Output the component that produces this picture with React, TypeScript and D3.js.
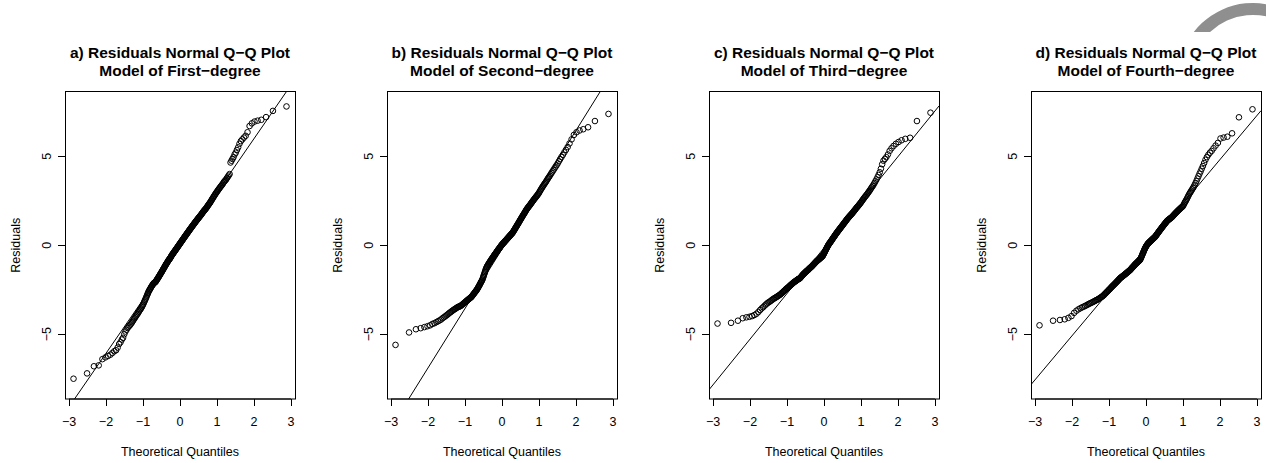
import { useEffect, useRef } from 'react';
import * as d3 from 'd3';

// sorted residuals of each model (n = 250)
const residualsA = [
  -7.5, -7.2, -6.8, -6.75, -6.4, -6.3, -6.22, -6.15, -6.05, -5.95,
  -5.9, -5.75, -5.55, -5.45, -5.3, -5.2, -5.0, -4.85, -4.75, -4.65,
  -4.58, -4.52, -4.46, -4.39, -4.32, -4.24, -4.17, -4.1, -4.03, -3.96,
  -3.9, -3.85, -3.78, -3.72, -3.65, -3.6, -3.55, -3.48, -3.42, -3.35,
  -3.28, -3.2, -3.12, -3.05, -2.98, -2.9, -2.82, -2.75, -2.68, -2.6,
  -2.55, -2.5, -2.45, -2.4, -2.35, -2.3, -2.26, -2.22, -2.18, -2.14,
  -2.12, -2.1, -2.08, -2.06, -2.02, -1.98, -1.94, -1.9, -1.86, -1.82,
  -1.78, -1.74, -1.7, -1.66, -1.62, -1.58, -1.54, -1.5, -1.46, -1.42,
  -1.38, -1.34, -1.3, -1.26, -1.22, -1.18, -1.14, -1.1, -1.06, -1.03,
  -1.0, -0.96, -0.92, -0.88, -0.85, -0.82, -0.79, -0.76, -0.73, -0.7,
  -0.66, -0.62, -0.58, -0.55, -0.52, -0.49, -0.46, -0.43, -0.4, -0.37,
  -0.34, -0.31, -0.28, -0.25, -0.22, -0.19, -0.16, -0.13, -0.1, -0.07,
  -0.04, -0.01, 0.02, 0.05, 0.08, 0.11, 0.14, 0.17, 0.2, 0.23,
  0.26, 0.29, 0.32, 0.35, 0.38, 0.41, 0.44, 0.47, 0.5, 0.53,
  0.56, 0.59, 0.62, 0.65, 0.68, 0.71, 0.74, 0.77, 0.8, 0.83,
  0.86, 0.89, 0.92, 0.95, 0.98, 1.01, 1.04, 1.07, 1.1, 1.13,
  1.16, 1.19, 1.22, 1.25, 1.28, 1.31, 1.34, 1.37, 1.4, 1.43,
  1.46, 1.49, 1.52, 1.55, 1.58, 1.61, 1.64, 1.67, 1.7, 1.73,
  1.77, 1.8, 1.84, 1.87, 1.91, 1.94, 1.97, 2.0, 2.03, 2.06,
  2.1, 2.14, 2.18, 2.22, 2.26, 2.3, 2.34, 2.38, 2.42, 2.47,
  2.52, 2.57, 2.62, 2.67, 2.72, 2.77, 2.82, 2.87, 2.92, 2.97,
  3.02, 3.07, 3.12, 3.17, 3.22, 3.27, 3.32, 3.37, 3.42, 3.48,
  3.55, 3.6, 3.65, 3.7, 3.78, 3.85, 3.92, 4.0, 4.65, 4.75,
  4.85, 4.95, 5.1, 5.2, 5.35, 5.5, 5.7, 5.85, 5.95, 6.05,
  6.15, 6.35, 6.7, 6.85, 6.95, 7.0, 7.05, 7.2, 7.55, 7.8,
];

const residualsB = [
  -5.6, -4.9, -4.72, -4.66, -4.6, -4.55, -4.5, -4.42, -4.38, -4.32,
  -4.27, -4.22, -4.17, -4.1, -4.05, -4.0, -3.95, -3.9, -3.85, -3.8,
  -3.76, -3.72, -3.68, -3.64, -3.61, -3.58, -3.55, -3.52, -3.49, -3.46,
  -3.45, -3.44, -3.42, -3.39, -3.36, -3.33, -3.3, -3.27, -3.24, -3.21,
  -3.18, -3.15, -3.12, -3.1, -3.07, -3.04, -3.02, -2.99, -2.97, -2.94,
  -2.92, -2.89, -2.85, -2.81, -2.77, -2.74, -2.7, -2.66, -2.63, -2.59,
  -2.56, -2.52, -2.48, -2.44, -2.39, -2.35, -2.3, -2.26, -2.21, -2.16,
  -2.11, -2.07, -2.02, -1.98, -1.93, -1.86, -1.79, -1.72, -1.65, -1.58,
  -1.51, -1.44, -1.37, -1.31, -1.25, -1.21, -1.17, -1.13, -1.09, -1.05,
  -1.02, -0.98, -0.95, -0.91, -0.88, -0.85, -0.81, -0.78, -0.75, -0.72,
  -0.69, -0.66, -0.62, -0.59, -0.56, -0.53, -0.5, -0.47, -0.44, -0.41,
  -0.38, -0.35, -0.32, -0.29, -0.26, -0.23, -0.2, -0.18, -0.15, -0.12,
  -0.09, -0.06, -0.03, 0.0, 0.02, 0.05, 0.07, 0.1, 0.12, 0.14,
  0.16, 0.19, 0.21, 0.24, 0.26, 0.28, 0.3, 0.33, 0.35, 0.38,
  0.4, 0.42, 0.45, 0.47, 0.5, 0.52, 0.54, 0.57, 0.59, 0.62,
  0.64, 0.66, 0.69, 0.71, 0.75, 0.79, 0.82, 0.86, 0.89, 0.93,
  0.97, 1.01, 1.04, 1.08, 1.12, 1.16, 1.19, 1.23, 1.27, 1.31,
  1.35, 1.39, 1.43, 1.47, 1.51, 1.55, 1.59, 1.63, 1.67, 1.71,
  1.75, 1.79, 1.83, 1.87, 1.92, 1.96, 2.0, 2.04, 2.08, 2.11,
  2.15, 2.18, 2.22, 2.25, 2.29, 2.33, 2.37, 2.41, 2.45, 2.49,
  2.53, 2.57, 2.61, 2.65, 2.69, 2.73, 2.77, 2.81, 2.86, 2.9,
  2.96, 3.02, 3.08, 3.14, 3.2, 3.26, 3.32, 3.38, 3.44, 3.5,
  3.56, 3.63, 3.7, 3.77, 3.84, 3.91, 3.99, 4.07, 4.15, 4.23,
  4.32, 4.41, 4.5, 4.6, 4.72, 4.84, 4.96, 5.08, 5.22, 5.36,
  5.52, 5.72, 5.95, 6.2, 6.35, 6.45, 6.52, 6.63, 6.98, 7.38,
];

const residualsC = [
  -4.4, -4.36, -4.24, -4.1, -4.05, -4.02, -3.98, -3.92, -3.85, -3.75,
  -3.64, -3.55, -3.48, -3.4, -3.33, -3.27, -3.22, -3.18, -3.14, -3.09,
  -3.05, -3.01, -2.98, -2.95, -2.92, -2.89, -2.86, -2.83, -2.8, -2.77,
  -2.74, -2.7, -2.66, -2.63, -2.59, -2.56, -2.52, -2.49, -2.45, -2.42,
  -2.4, -2.37, -2.34, -2.31, -2.28, -2.25, -2.22, -2.2, -2.17, -2.14,
  -2.12, -2.09, -2.07, -2.05, -2.03, -2.01, -1.99, -1.97, -1.95, -1.93,
  -1.91, -1.9, -1.88, -1.87, -1.85, -1.82, -1.79, -1.76, -1.73, -1.7,
  -1.67, -1.64, -1.62, -1.6, -1.57, -1.55, -1.53, -1.5, -1.48, -1.46,
  -1.44, -1.42, -1.4, -1.38, -1.36, -1.33, -1.31, -1.29, -1.27, -1.25,
  -1.23, -1.21, -1.19, -1.17, -1.14, -1.12, -1.1, -1.07, -1.05, -1.03,
  -1.0, -0.98, -0.96, -0.94, -0.91, -0.89, -0.87, -0.86, -0.84, -0.82,
  -0.8, -0.79, -0.77, -0.75, -0.73, -0.71, -0.69, -0.68, -0.66, -0.64,
  -0.62, -0.6, -0.56, -0.52, -0.48, -0.44, -0.4, -0.36, -0.31, -0.27,
  -0.23, -0.19, -0.15, -0.11, -0.07, -0.03, 0.0, 0.04, 0.08, 0.1,
  0.13, 0.16, 0.19, 0.22, 0.25, 0.28, 0.31, 0.35, 0.38, 0.41,
  0.44, 0.47, 0.5, 0.53, 0.57, 0.6, 0.63, 0.66, 0.69, 0.72,
  0.75, 0.78, 0.81, 0.84, 0.87, 0.9, 0.93, 0.96, 0.99, 1.02,
  1.05, 1.08, 1.11, 1.14, 1.17, 1.21, 1.24, 1.27, 1.3, 1.33,
  1.37, 1.4, 1.43, 1.47, 1.5, 1.53, 1.56, 1.59, 1.62, 1.65,
  1.68, 1.71, 1.74, 1.77, 1.8, 1.84, 1.87, 1.91, 1.95, 1.98,
  2.02, 2.06, 2.1, 2.14, 2.17, 2.21, 2.25, 2.29, 2.33, 2.37,
  2.42, 2.47, 2.52, 2.57, 2.62, 2.67, 2.72, 2.77, 2.82, 2.87,
  2.93, 2.99, 3.05, 3.12, 3.19, 3.26, 3.33, 3.41, 3.5, 3.6,
  3.7, 3.82, 3.95, 4.1, 4.3, 4.55, 4.75, 4.85, 4.95, 5.1,
  5.3, 5.45, 5.58, 5.7, 5.8, 5.9, 5.98, 6.04, 6.98, 7.45,
];

const residualsD = [
  -4.5, -4.24, -4.2, -4.16, -4.08, -3.98, -3.8, -3.68, -3.6, -3.54,
  -3.49, -3.45, -3.41, -3.37, -3.33, -3.29, -3.26, -3.23, -3.2, -3.17,
  -3.14, -3.11, -3.08, -3.06, -3.03, -3.0, -2.97, -2.94, -2.91, -2.88,
  -2.85, -2.81, -2.77, -2.73, -2.69, -2.65, -2.62, -2.58, -2.54, -2.51,
  -2.47, -2.44, -2.4, -2.37, -2.33, -2.3, -2.27, -2.24, -2.21, -2.18,
  -2.15, -2.12, -2.09, -2.06, -2.03, -2.0, -1.97, -1.94, -1.91, -1.88,
  -1.85, -1.83, -1.81, -1.79, -1.77, -1.75, -1.73, -1.71, -1.69, -1.67,
  -1.65, -1.63, -1.61, -1.59, -1.57, -1.55, -1.53, -1.51, -1.49, -1.47,
  -1.45, -1.43, -1.41, -1.39, -1.37, -1.34, -1.31, -1.29, -1.26, -1.24,
  -1.22, -1.19, -1.17, -1.14, -1.12, -1.09, -1.07, -1.05, -1.03, -1.01,
  -0.99, -0.97, -0.95, -0.93, -0.91, -0.89, -0.87, -0.85, -0.83, -0.8,
  -0.76, -0.71, -0.66, -0.61, -0.56, -0.51, -0.46, -0.41, -0.36, -0.31,
  -0.26, -0.21, -0.17, -0.13, -0.09, -0.05, -0.02, 0.01, 0.04, 0.07,
  0.1, 0.12, 0.14, 0.16, 0.18, 0.2, 0.22, 0.24, 0.26, 0.28,
  0.3, 0.32, 0.34, 0.36, 0.38, 0.4, 0.42, 0.44, 0.46, 0.48,
  0.51, 0.54, 0.57, 0.6, 0.63, 0.66, 0.69, 0.72, 0.75, 0.78,
  0.81, 0.84, 0.87, 0.9, 0.93, 0.96, 0.99, 1.02, 1.05, 1.08,
  1.11, 1.14, 1.17, 1.2, 1.23, 1.26, 1.29, 1.32, 1.35, 1.38,
  1.4, 1.42, 1.44, 1.46, 1.48, 1.5, 1.52, 1.54, 1.56, 1.58,
  1.61, 1.64, 1.67, 1.7, 1.73, 1.76, 1.79, 1.82, 1.85, 1.88,
  1.91, 1.94, 1.97, 2.0, 2.03, 2.06, 2.09, 2.12, 2.15, 2.17,
  2.22, 2.28, 2.35, 2.42, 2.48, 2.55, 2.62, 2.7, 2.78, 2.86,
  2.93, 3.0, 3.07, 3.14, 3.22, 3.3, 3.4, 3.5, 3.62, 3.75,
  3.88, 4.02, 4.15, 4.3, 4.45, 4.62, 4.8, 4.95, 5.08, 5.2,
  5.3, 5.45, 5.6, 5.75, 6.0, 6.05, 6.1, 6.29, 7.19, 7.64,
];

const panelResiduals = [residualsA, residualsB, residualsC, residualsD];
const panelTitles = [
  ['a) Residuals Normal Q\u2212Q Plot', 'Model of First\u2212degree'],
  ['b) Residuals Normal Q\u2212Q Plot', 'Model of Second\u2212degree'],
  ['c) Residuals Normal Q\u2212Q Plot', 'Model of Third\u2212degree'],
  ['d) Residuals Normal Q\u2212Q Plot', 'Model of Fourth\u2212degree'],
];
const xTicks = [-3, -2, -1, 0, 1, 2, 3];
const yTicks = [-5, 0, 5];
const yLimits = [-8, 8];
const xLabel = 'Theoretical Quantiles';
const yLabel = 'Residuals';

const WIDTH = 1266;
const HEIGHT = 463;
const FONT = '"Liberation Sans", Arial, Helvetica, sans-serif';

// inverse normal cdf (Acklam)
function qnorm(p: number): number {
  const a = [-39.69683028665376, 220.9460984245205, -275.9285104469687, 138.357751867269, -30.66479806614716, 2.506628277459239];
  const b = [-54.47609879822406, 161.5858368580409, -155.6989798598866, 66.80131188771972, -13.28068155288572];
  const c = [-0.007784894002430293, -0.3223964580411365, -2.400758277161838, -2.549732539343734, 4.374664141464968, 2.938163982698783];
  const d = [0.007784695709041462, 0.3224671290700398, 2.445134137142996, 3.754408661907416];
  const lo = 0.02425;
  if (p < lo) {
    const q = Math.sqrt(-2 * Math.log(p));
    return (((((c[0] * q + c[1]) * q + c[2]) * q + c[3]) * q + c[4]) * q + c[5]) /
      ((((d[0] * q + d[1]) * q + d[2]) * q + d[3]) * q + 1);
  }
  if (p > 1 - lo) return -qnorm(1 - p);
  const q = p - 0.5;
  const r = q * q;
  return (((((a[0] * r + a[1]) * r + a[2]) * r + a[3]) * r + a[4]) * r + a[5]) * q /
    (((((b[0] * r + b[1]) * r + b[2]) * r + b[3]) * r + b[4]) * r + 1);
}

const fmt = (v: number) => String(v).replace('-', '\u2212');

function QQPanels() {
  const svgRef = useRef<SVGSVGElement | null>(null);

  useEffect(() => {
    const svg = d3.select(svgRef.current);
    svg.selectAll('*').remove();

    const top = 91.5;
    const bottom = 399;
    const boxWidth = 230;
    const step = 322;

    const yPad = (yLimits[1] - yLimits[0]) * 0.04;
    const y = d3.scaleLinear()
      .domain([yLimits[0] - yPad, yLimits[1] + yPad])
      .range([bottom, top]);

    const defs = svg.append('defs');

    panelResiduals.forEach((res, k) => {
      const sorted = d3.sort(res);
      const n = sorted.length;
      // qqnorm: theoretical quantiles from ppoints(n)
      const theo = sorted.map((_, i) => qnorm((i + 0.5) / n));
      const [xmin, xmax] = d3.extent(theo) as [number, number];
      const xPad = (xmax - xmin) * 0.04;
      const left = 65 + step * k;
      const x = d3.scaleLinear()
        .domain([xmin - xPad, xmax + xPad])
        .range([left, left + boxWidth]);

      const g = svg.append('g');

      // titles
      const cx = left + boxWidth / 2;
      g.append('text')
        .attr('x', cx).attr('y', 58)
        .attr('text-anchor', 'middle')
        .attr('font-family', FONT).attr('font-size', 15.5).attr('font-weight', 'bold')
        .attr('fill', '#000')
        .text(panelTitles[k][0]);
      g.append('text')
        .attr('x', cx).attr('y', 75.5)
        .attr('text-anchor', 'middle')
        .attr('font-family', FONT).attr('font-size', 15.5).attr('font-weight', 'bold')
        .attr('fill', '#000')
        .text(panelTitles[k][1]);

      // qqline through the quartiles
      const q1 = d3.quantile(sorted, 0.25) as number;
      const q3 = d3.quantile(sorted, 0.75) as number;
      const z1 = qnorm(0.25);
      const z3 = qnorm(0.75);
      const slope = (q3 - q1) / (z3 - z1);
      const intercept = q1 - slope * z1;
      const [d0, d1] = x.domain();

      const clipId = `clip-${k}`;
      defs.append('clipPath').attr('id', clipId)
        .append('rect')
        .attr('x', left).attr('y', top)
        .attr('width', boxWidth).attr('height', bottom - top);

      g.append('line')
        .attr('clip-path', `url(#${clipId})`)
        .attr('x1', x(d0)).attr('y1', y(intercept + slope * d0))
        .attr('x2', x(d1)).attr('y2', y(intercept + slope * d1))
        .attr('stroke', '#000').attr('stroke-width', 1);

      // points
      g.append('g')
        .selectAll('circle')
        .data(sorted)
        .join('circle')
        .attr('cx', (_, i) => x(theo[i]))
        .attr('cy', d => y(d))
        .attr('r', 2.8)
        .attr('fill', 'none')
        .attr('stroke', '#000')
        .attr('stroke-width', 1);

      // box
      g.append('rect')
        .attr('x', left + 0.5).attr('y', top)
        .attr('width', boxWidth).attr('height', bottom - top)
        .attr('fill', 'none').attr('stroke', '#000').attr('stroke-width', 1);

      // x axis
      const xAxis = g.append('g');
      xAxis.append('line')
        .attr('x1', x(xTicks[0])).attr('x2', x(xTicks[xTicks.length - 1]))
        .attr('y1', bottom).attr('y2', bottom)
        .attr('stroke', '#000');
      xTicks.forEach(t => {
        xAxis.append('line')
          .attr('x1', Math.round(x(t)) + 0.5).attr('x2', Math.round(x(t)) + 0.5)
          .attr('y1', bottom).attr('y2', bottom + 7)
          .attr('stroke', '#000');
        xAxis.append('text')
          .attr('x', x(t)).attr('y', 426)
          .attr('text-anchor', 'middle')
          .attr('font-family', FONT).attr('font-size', 12.5)
          .attr('fill', '#000')
          .text(fmt(t));
      });
      g.append('text')
        .attr('x', cx).attr('y', 455.5)
        .attr('text-anchor', 'middle')
        .attr('font-family', FONT).attr('font-size', 12.5)
        .attr('fill', '#000')
        .text(xLabel);

      // y axis
      const yAxis = g.append('g');
      yTicks.forEach(t => {
        const yy = Math.round(y(t)) + 0.5;
        yAxis.append('line')
          .attr('x1', left - 7).attr('x2', left)
          .attr('y1', yy).attr('y2', yy)
          .attr('stroke', '#000');
        yAxis.append('text')
          .attr('transform', `translate(${left - 14},${y(t)}) rotate(-90)`)
          .attr('text-anchor', 'middle')
          .attr('font-family', FONT).attr('font-size', 12.5)
          .attr('fill', '#000')
          .text(fmt(t));
      });
      g.append('text')
        .attr('transform', `translate(${left - 45.5},${(top + bottom) / 2}) rotate(-90)`)
        .attr('text-anchor', 'middle')
        .attr('font-family', FONT).attr('font-size', 12.5)
        .attr('fill', '#000')
        .text(yLabel);
    });

    // grey ring fragment in the top right corner
    defs.append('clipPath').attr('id', 'ring-clip')
      .append('rect')
      .attr('x', 1150).attr('y', 0)
      .attr('width', WIDTH - 1150).attr('height', 32);
    const arc = d3.arc<any>()
      .innerRadius(63).outerRadius(75)
      .startAngle(-1.4).endAngle(1.2);
    svg.append('g')
      .attr('clip-path', 'url(#ring-clip)')
      .append('path')
      .attr('transform', 'translate(1253,78)')
      .attr('d', arc({}) as string)
      .attr('fill', '#8f8f8f');
  }, []);

  return (
    <svg
      ref={svgRef}
      width={WIDTH}
      height={HEIGHT}
      style={{ position: 'absolute', left: 0, top: 0, background: '#fff' }}
    />
  );
}

export default function App() {
  return <QQPanels />;
}
